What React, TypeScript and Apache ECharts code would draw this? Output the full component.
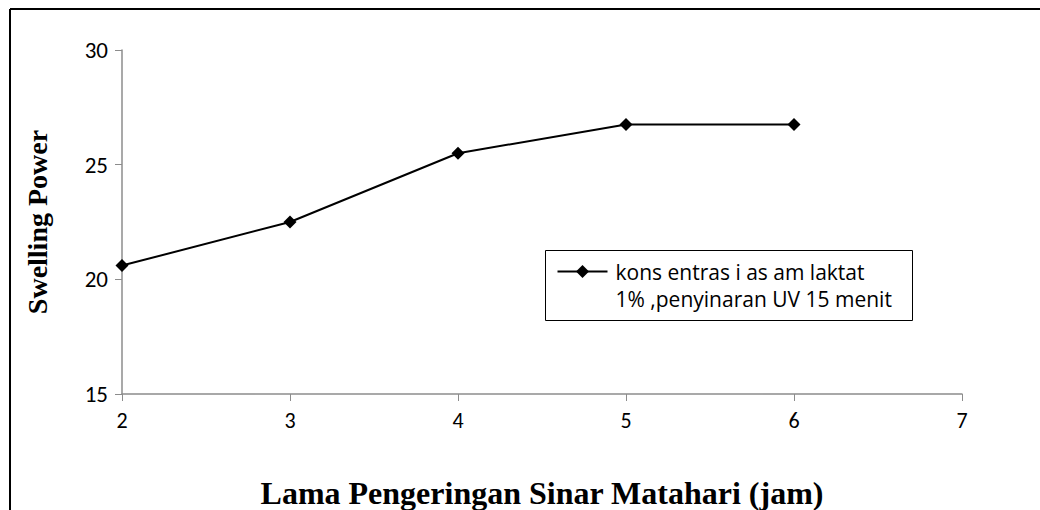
import React, { useEffect, useRef } from "react";
import * as echarts from "echarts";

const xValues = [2, 3, 4, 5, 6];
const swellingPower = [20.6, 22.5, 25.5, 26.75, 26.75];
const legendLine1 = "kons entras i as am laktat";
const legendLine2 = "1% ,penyinaran UV 15 menit";
const seriesName = legendLine1 + "\n" + legendLine2;
const xTitle = "Lama Pengeringan Sinar Matahari (jam)";
const yTitle = "Swelling Power";

const tickFont = "Carlito, 'Liberation Sans Narrow', 'DejaVu Sans Condensed', sans-serif";
const legendFont = "'Open Sans', 'DejaVu Sans', sans-serif";
const serif = "'Liberation Serif', 'DejaVu Serif', serif";

export default function App() {
  const ref = useRef<HTMLDivElement>(null);
  useEffect(() => {
    document.body.style.margin = "0";
    const chart = echarts.init(ref.current!, null, { renderer: "svg" });
    chart.setOption({
      animation: false,
      backgroundColor: "#fff",
      grid: { left: 122, right: 78, top: 50, bottom: 116, outerBoundsMode: "none", containLabel: false },
      xAxis: {
        type: "value",
        min: 2,
        max: 7,
        interval: 1,
        name: xTitle,
        nameLocation: "middle",
        nameGap: 83,
        nameTextStyle: { fontFamily: serif, fontWeight: "bold", fontSize: 32, color: "#000" },
        axisLine: { lineStyle: { color: "#8c8c8c", width: 1.5 } },
        axisTick: { show: true, length: 7, lineStyle: { color: "#8c8c8c" } },
        axisLabel: { fontFamily: tickFont, fontSize: 22, color: "#000", margin: 15 },
        splitLine: { show: false },
      },
      yAxis: {
        type: "value",
        min: 15,
        max: 30,
        interval: 5,
        name: yTitle,
        nameLocation: "middle",
        nameGap: 71,
        nameTextStyle: { fontFamily: serif, fontWeight: "bold", fontSize: 28, color: "#000" },
        axisLine: { show: true, lineStyle: { color: "#8c8c8c", width: 1.5 } },
        axisTick: { show: true, length: 7, lineStyle: { color: "#8c8c8c" } },
        axisLabel: { fontFamily: tickFont, fontSize: 23, color: "#000", margin: 14 },
        splitLine: { show: false },
      },
      series: [
        {
          type: "line",
          name: seriesName,
          data: xValues.map((x, i) => [x, swellingPower[i]]),
          symbol: "diamond",
          symbolSize: 13,
          lineStyle: { color: "#000", width: 2 },
          itemStyle: { color: "#000" },
        },
      ],
      graphic: [
        { type: "line", shape: { x1: 10, y1: 9, x2: 1040, y2: 9 }, style: { stroke: "#000", lineWidth: 2 } },
        { type: "line", shape: { x1: 10, y1: 9, x2: 10, y2: 510 }, style: { stroke: "#000", lineWidth: 2 } },
        {
          type: "group",
          left: 545,
          top: 250,
          children: [
            { type: "rect", shape: { x: 0, y: 0, width: 367, height: 70 }, style: { fill: "#fff", stroke: "#000", lineWidth: 1 } },
            { type: "line", shape: { x1: 12, y1: 21, x2: 62, y2: 21 }, style: { stroke: "#000", lineWidth: 2 } },
            { type: "polygon", shape: { points: [[37, 14.5], [43.5, 21], [37, 27.5], [30.5, 21]] }, style: { fill: "#000" } },
            { type: "text", x: 70, y: 21, style: { text: legendLine1, font: `21px ${legendFont}`, fill: "#000", verticalAlign: "middle" } },
            { type: "text", x: 70, y: 48, style: { text: legendLine2, font: `21px ${legendFont}`, fill: "#000", verticalAlign: "middle" } },
          ],
        },
      ],
    });
    return () => chart.dispose();
  }, []);
  return <div ref={ref} style={{ width: 1040, height: 510 }} />;
}
